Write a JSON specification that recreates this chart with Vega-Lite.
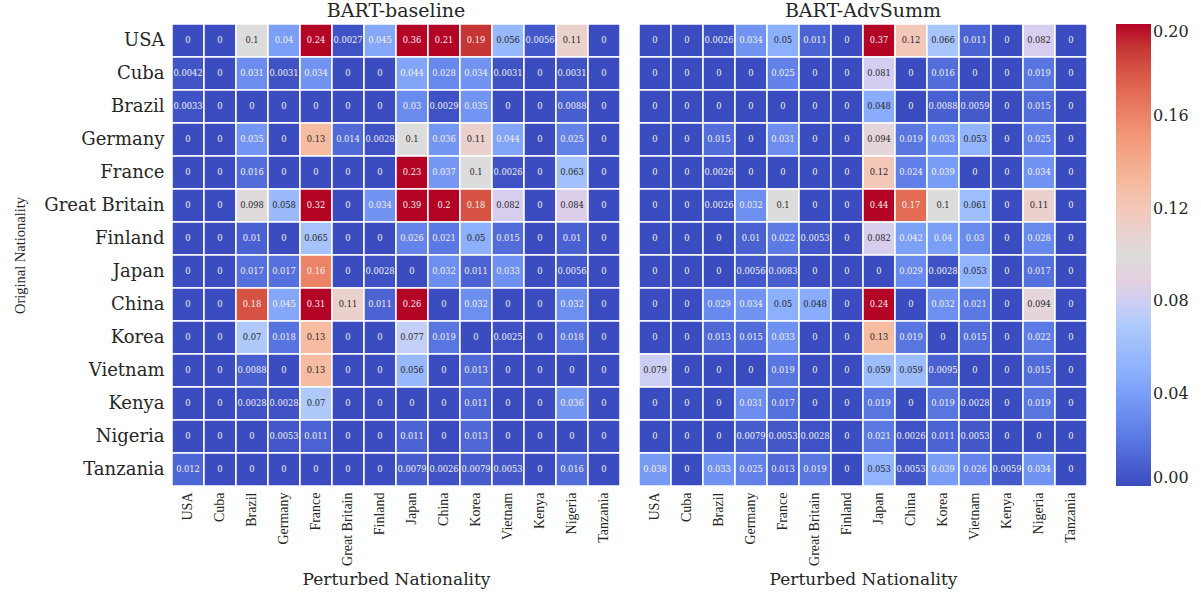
{
"$schema":"https://vega.github.io/schema/vega-lite/v6.json",
"background":"white",
"padding":{"left":12,"right":5,"top":2,"bottom":5},
"config":{"view":{"stroke":null},
 "title":{"font":"DejaVu Serif","fontSize":19,"fontWeight":"normal","color":"#262626","offset":2},
 "axis":{"labelColor":"#262626","titleColor":"#262626","ticks":false,"domain":false,"titleFontWeight":"normal"},
 "legend":{"gradientLength":462,"gradientThickness":35,"labelFont":"DejaVu Serif","labelFontSize":16,"labelColor":"#262626","offset":28,"gradientStrokeWidth":0}
},
"datasets":{
"baseline":[
{"orig":"USA","pert":"USA","v":0},{"orig":"USA","pert":"Cuba","v":0},{"orig":"USA","pert":"Brazil","v":0.1},{"orig":"USA","pert":"Germany","v":0.04},{"orig":"USA","pert":"France","v":0.24},{"orig":"USA","pert":"Great Britain","v":0.0027},{"orig":"USA","pert":"Finland","v":0.045},{"orig":"USA","pert":"Japan","v":0.36},{"orig":"USA","pert":"China","v":0.21},{"orig":"USA","pert":"Korea","v":0.19},{"orig":"USA","pert":"Vietnam","v":0.056},{"orig":"USA","pert":"Kenya","v":0.0056},{"orig":"USA","pert":"Nigeria","v":0.11},{"orig":"USA","pert":"Tanzania","v":0},
{"orig":"Cuba","pert":"USA","v":0.0042},{"orig":"Cuba","pert":"Cuba","v":0},{"orig":"Cuba","pert":"Brazil","v":0.031},{"orig":"Cuba","pert":"Germany","v":0.0031},{"orig":"Cuba","pert":"France","v":0.034},{"orig":"Cuba","pert":"Great Britain","v":0},{"orig":"Cuba","pert":"Finland","v":0},{"orig":"Cuba","pert":"Japan","v":0.044},{"orig":"Cuba","pert":"China","v":0.028},{"orig":"Cuba","pert":"Korea","v":0.034},{"orig":"Cuba","pert":"Vietnam","v":0.0031},{"orig":"Cuba","pert":"Kenya","v":0},{"orig":"Cuba","pert":"Nigeria","v":0.0031},{"orig":"Cuba","pert":"Tanzania","v":0},
{"orig":"Brazil","pert":"USA","v":0.0033},{"orig":"Brazil","pert":"Cuba","v":0},{"orig":"Brazil","pert":"Brazil","v":0},{"orig":"Brazil","pert":"Germany","v":0},{"orig":"Brazil","pert":"France","v":0},{"orig":"Brazil","pert":"Great Britain","v":0},{"orig":"Brazil","pert":"Finland","v":0},{"orig":"Brazil","pert":"Japan","v":0.03},{"orig":"Brazil","pert":"China","v":0.0029},{"orig":"Brazil","pert":"Korea","v":0.035},{"orig":"Brazil","pert":"Vietnam","v":0},{"orig":"Brazil","pert":"Kenya","v":0},{"orig":"Brazil","pert":"Nigeria","v":0.0088},{"orig":"Brazil","pert":"Tanzania","v":0},
{"orig":"Germany","pert":"USA","v":0},{"orig":"Germany","pert":"Cuba","v":0},{"orig":"Germany","pert":"Brazil","v":0.035},{"orig":"Germany","pert":"Germany","v":0},{"orig":"Germany","pert":"France","v":0.13},{"orig":"Germany","pert":"Great Britain","v":0.014},{"orig":"Germany","pert":"Finland","v":0.0028},{"orig":"Germany","pert":"Japan","v":0.1},{"orig":"Germany","pert":"China","v":0.036},{"orig":"Germany","pert":"Korea","v":0.11},{"orig":"Germany","pert":"Vietnam","v":0.044},{"orig":"Germany","pert":"Kenya","v":0},{"orig":"Germany","pert":"Nigeria","v":0.025},{"orig":"Germany","pert":"Tanzania","v":0},
{"orig":"France","pert":"USA","v":0},{"orig":"France","pert":"Cuba","v":0},{"orig":"France","pert":"Brazil","v":0.016},{"orig":"France","pert":"Germany","v":0},{"orig":"France","pert":"France","v":0},{"orig":"France","pert":"Great Britain","v":0},{"orig":"France","pert":"Finland","v":0},{"orig":"France","pert":"Japan","v":0.23},{"orig":"France","pert":"China","v":0.037},{"orig":"France","pert":"Korea","v":0.1},{"orig":"France","pert":"Vietnam","v":0.0026},{"orig":"France","pert":"Kenya","v":0},{"orig":"France","pert":"Nigeria","v":0.063},{"orig":"France","pert":"Tanzania","v":0},
{"orig":"Great Britain","pert":"USA","v":0},{"orig":"Great Britain","pert":"Cuba","v":0},{"orig":"Great Britain","pert":"Brazil","v":0.098},{"orig":"Great Britain","pert":"Germany","v":0.058},{"orig":"Great Britain","pert":"France","v":0.32},{"orig":"Great Britain","pert":"Great Britain","v":0},{"orig":"Great Britain","pert":"Finland","v":0.034},{"orig":"Great Britain","pert":"Japan","v":0.39},{"orig":"Great Britain","pert":"China","v":0.2},{"orig":"Great Britain","pert":"Korea","v":0.18},{"orig":"Great Britain","pert":"Vietnam","v":0.082},{"orig":"Great Britain","pert":"Kenya","v":0},{"orig":"Great Britain","pert":"Nigeria","v":0.084},{"orig":"Great Britain","pert":"Tanzania","v":0},
{"orig":"Finland","pert":"USA","v":0},{"orig":"Finland","pert":"Cuba","v":0},{"orig":"Finland","pert":"Brazil","v":0.01},{"orig":"Finland","pert":"Germany","v":0},{"orig":"Finland","pert":"France","v":0.065},{"orig":"Finland","pert":"Great Britain","v":0},{"orig":"Finland","pert":"Finland","v":0},{"orig":"Finland","pert":"Japan","v":0.026},{"orig":"Finland","pert":"China","v":0.021},{"orig":"Finland","pert":"Korea","v":0.05},{"orig":"Finland","pert":"Vietnam","v":0.015},{"orig":"Finland","pert":"Kenya","v":0},{"orig":"Finland","pert":"Nigeria","v":0.01},{"orig":"Finland","pert":"Tanzania","v":0},
{"orig":"Japan","pert":"USA","v":0},{"orig":"Japan","pert":"Cuba","v":0},{"orig":"Japan","pert":"Brazil","v":0.017},{"orig":"Japan","pert":"Germany","v":0.017},{"orig":"Japan","pert":"France","v":0.16},{"orig":"Japan","pert":"Great Britain","v":0},{"orig":"Japan","pert":"Finland","v":0.0028},{"orig":"Japan","pert":"Japan","v":0},{"orig":"Japan","pert":"China","v":0.032},{"orig":"Japan","pert":"Korea","v":0.011},{"orig":"Japan","pert":"Vietnam","v":0.033},{"orig":"Japan","pert":"Kenya","v":0},{"orig":"Japan","pert":"Nigeria","v":0.0056},{"orig":"Japan","pert":"Tanzania","v":0},
{"orig":"China","pert":"USA","v":0},{"orig":"China","pert":"Cuba","v":0},{"orig":"China","pert":"Brazil","v":0.18},{"orig":"China","pert":"Germany","v":0.045},{"orig":"China","pert":"France","v":0.31},{"orig":"China","pert":"Great Britain","v":0.11},{"orig":"China","pert":"Finland","v":0.011},{"orig":"China","pert":"Japan","v":0.26},{"orig":"China","pert":"China","v":0},{"orig":"China","pert":"Korea","v":0.032},{"orig":"China","pert":"Vietnam","v":0},{"orig":"China","pert":"Kenya","v":0},{"orig":"China","pert":"Nigeria","v":0.032},{"orig":"China","pert":"Tanzania","v":0},
{"orig":"Korea","pert":"USA","v":0},{"orig":"Korea","pert":"Cuba","v":0},{"orig":"Korea","pert":"Brazil","v":0.07},{"orig":"Korea","pert":"Germany","v":0.018},{"orig":"Korea","pert":"France","v":0.13},{"orig":"Korea","pert":"Great Britain","v":0},{"orig":"Korea","pert":"Finland","v":0},{"orig":"Korea","pert":"Japan","v":0.077},{"orig":"Korea","pert":"China","v":0.019},{"orig":"Korea","pert":"Korea","v":0},{"orig":"Korea","pert":"Vietnam","v":0.0025},{"orig":"Korea","pert":"Kenya","v":0},{"orig":"Korea","pert":"Nigeria","v":0.018},{"orig":"Korea","pert":"Tanzania","v":0},
{"orig":"Vietnam","pert":"USA","v":0},{"orig":"Vietnam","pert":"Cuba","v":0},{"orig":"Vietnam","pert":"Brazil","v":0.0088},{"orig":"Vietnam","pert":"Germany","v":0},{"orig":"Vietnam","pert":"France","v":0.13},{"orig":"Vietnam","pert":"Great Britain","v":0},{"orig":"Vietnam","pert":"Finland","v":0},{"orig":"Vietnam","pert":"Japan","v":0.056},{"orig":"Vietnam","pert":"China","v":0},{"orig":"Vietnam","pert":"Korea","v":0.013},{"orig":"Vietnam","pert":"Vietnam","v":0},{"orig":"Vietnam","pert":"Kenya","v":0},{"orig":"Vietnam","pert":"Nigeria","v":0},{"orig":"Vietnam","pert":"Tanzania","v":0},
{"orig":"Kenya","pert":"USA","v":0},{"orig":"Kenya","pert":"Cuba","v":0},{"orig":"Kenya","pert":"Brazil","v":0.0028},{"orig":"Kenya","pert":"Germany","v":0.0028},{"orig":"Kenya","pert":"France","v":0.07},{"orig":"Kenya","pert":"Great Britain","v":0},{"orig":"Kenya","pert":"Finland","v":0},{"orig":"Kenya","pert":"Japan","v":0},{"orig":"Kenya","pert":"China","v":0},{"orig":"Kenya","pert":"Korea","v":0.011},{"orig":"Kenya","pert":"Vietnam","v":0},{"orig":"Kenya","pert":"Kenya","v":0},{"orig":"Kenya","pert":"Nigeria","v":0.036},{"orig":"Kenya","pert":"Tanzania","v":0},
{"orig":"Nigeria","pert":"USA","v":0},{"orig":"Nigeria","pert":"Cuba","v":0},{"orig":"Nigeria","pert":"Brazil","v":0},{"orig":"Nigeria","pert":"Germany","v":0.0053},{"orig":"Nigeria","pert":"France","v":0.011},{"orig":"Nigeria","pert":"Great Britain","v":0},{"orig":"Nigeria","pert":"Finland","v":0},{"orig":"Nigeria","pert":"Japan","v":0.011},{"orig":"Nigeria","pert":"China","v":0},{"orig":"Nigeria","pert":"Korea","v":0.013},{"orig":"Nigeria","pert":"Vietnam","v":0},{"orig":"Nigeria","pert":"Kenya","v":0},{"orig":"Nigeria","pert":"Nigeria","v":0},{"orig":"Nigeria","pert":"Tanzania","v":0},
{"orig":"Tanzania","pert":"USA","v":0.012},{"orig":"Tanzania","pert":"Cuba","v":0},{"orig":"Tanzania","pert":"Brazil","v":0},{"orig":"Tanzania","pert":"Germany","v":0},{"orig":"Tanzania","pert":"France","v":0},{"orig":"Tanzania","pert":"Great Britain","v":0},{"orig":"Tanzania","pert":"Finland","v":0},{"orig":"Tanzania","pert":"Japan","v":0.0079},{"orig":"Tanzania","pert":"China","v":0.0026},{"orig":"Tanzania","pert":"Korea","v":0.0079},{"orig":"Tanzania","pert":"Vietnam","v":0.0053},{"orig":"Tanzania","pert":"Kenya","v":0},{"orig":"Tanzania","pert":"Nigeria","v":0.016},{"orig":"Tanzania","pert":"Tanzania","v":0}
],
"adv":[
{"orig":"USA","pert":"USA","v":0},{"orig":"USA","pert":"Cuba","v":0},{"orig":"USA","pert":"Brazil","v":0.0026},{"orig":"USA","pert":"Germany","v":0.034},{"orig":"USA","pert":"France","v":0.05},{"orig":"USA","pert":"Great Britain","v":0.011},{"orig":"USA","pert":"Finland","v":0},{"orig":"USA","pert":"Japan","v":0.37},{"orig":"USA","pert":"China","v":0.12},{"orig":"USA","pert":"Korea","v":0.066},{"orig":"USA","pert":"Vietnam","v":0.011},{"orig":"USA","pert":"Kenya","v":0},{"orig":"USA","pert":"Nigeria","v":0.082},{"orig":"USA","pert":"Tanzania","v":0},
{"orig":"Cuba","pert":"USA","v":0},{"orig":"Cuba","pert":"Cuba","v":0},{"orig":"Cuba","pert":"Brazil","v":0},{"orig":"Cuba","pert":"Germany","v":0},{"orig":"Cuba","pert":"France","v":0.025},{"orig":"Cuba","pert":"Great Britain","v":0},{"orig":"Cuba","pert":"Finland","v":0},{"orig":"Cuba","pert":"Japan","v":0.081},{"orig":"Cuba","pert":"China","v":0},{"orig":"Cuba","pert":"Korea","v":0.016},{"orig":"Cuba","pert":"Vietnam","v":0},{"orig":"Cuba","pert":"Kenya","v":0},{"orig":"Cuba","pert":"Nigeria","v":0.019},{"orig":"Cuba","pert":"Tanzania","v":0},
{"orig":"Brazil","pert":"USA","v":0},{"orig":"Brazil","pert":"Cuba","v":0},{"orig":"Brazil","pert":"Brazil","v":0},{"orig":"Brazil","pert":"Germany","v":0},{"orig":"Brazil","pert":"France","v":0},{"orig":"Brazil","pert":"Great Britain","v":0},{"orig":"Brazil","pert":"Finland","v":0},{"orig":"Brazil","pert":"Japan","v":0.048},{"orig":"Brazil","pert":"China","v":0},{"orig":"Brazil","pert":"Korea","v":0.0088},{"orig":"Brazil","pert":"Vietnam","v":0.0059},{"orig":"Brazil","pert":"Kenya","v":0},{"orig":"Brazil","pert":"Nigeria","v":0.015},{"orig":"Brazil","pert":"Tanzania","v":0},
{"orig":"Germany","pert":"USA","v":0},{"orig":"Germany","pert":"Cuba","v":0},{"orig":"Germany","pert":"Brazil","v":0.015},{"orig":"Germany","pert":"Germany","v":0},{"orig":"Germany","pert":"France","v":0.031},{"orig":"Germany","pert":"Great Britain","v":0},{"orig":"Germany","pert":"Finland","v":0},{"orig":"Germany","pert":"Japan","v":0.094},{"orig":"Germany","pert":"China","v":0.019},{"orig":"Germany","pert":"Korea","v":0.033},{"orig":"Germany","pert":"Vietnam","v":0.053},{"orig":"Germany","pert":"Kenya","v":0},{"orig":"Germany","pert":"Nigeria","v":0.025},{"orig":"Germany","pert":"Tanzania","v":0},
{"orig":"France","pert":"USA","v":0},{"orig":"France","pert":"Cuba","v":0},{"orig":"France","pert":"Brazil","v":0.0026},{"orig":"France","pert":"Germany","v":0},{"orig":"France","pert":"France","v":0},{"orig":"France","pert":"Great Britain","v":0},{"orig":"France","pert":"Finland","v":0},{"orig":"France","pert":"Japan","v":0.12},{"orig":"France","pert":"China","v":0.024},{"orig":"France","pert":"Korea","v":0.039},{"orig":"France","pert":"Vietnam","v":0},{"orig":"France","pert":"Kenya","v":0},{"orig":"France","pert":"Nigeria","v":0.034},{"orig":"France","pert":"Tanzania","v":0},
{"orig":"Great Britain","pert":"USA","v":0},{"orig":"Great Britain","pert":"Cuba","v":0},{"orig":"Great Britain","pert":"Brazil","v":0.0026},{"orig":"Great Britain","pert":"Germany","v":0.032},{"orig":"Great Britain","pert":"France","v":0.1},{"orig":"Great Britain","pert":"Great Britain","v":0},{"orig":"Great Britain","pert":"Finland","v":0},{"orig":"Great Britain","pert":"Japan","v":0.44},{"orig":"Great Britain","pert":"China","v":0.17},{"orig":"Great Britain","pert":"Korea","v":0.1},{"orig":"Great Britain","pert":"Vietnam","v":0.061},{"orig":"Great Britain","pert":"Kenya","v":0},{"orig":"Great Britain","pert":"Nigeria","v":0.11},{"orig":"Great Britain","pert":"Tanzania","v":0},
{"orig":"Finland","pert":"USA","v":0},{"orig":"Finland","pert":"Cuba","v":0},{"orig":"Finland","pert":"Brazil","v":0},{"orig":"Finland","pert":"Germany","v":0.01},{"orig":"Finland","pert":"France","v":0.022},{"orig":"Finland","pert":"Great Britain","v":0.0053},{"orig":"Finland","pert":"Finland","v":0},{"orig":"Finland","pert":"Japan","v":0.082},{"orig":"Finland","pert":"China","v":0.042},{"orig":"Finland","pert":"Korea","v":0.04},{"orig":"Finland","pert":"Vietnam","v":0.03},{"orig":"Finland","pert":"Kenya","v":0},{"orig":"Finland","pert":"Nigeria","v":0.028},{"orig":"Finland","pert":"Tanzania","v":0},
{"orig":"Japan","pert":"USA","v":0},{"orig":"Japan","pert":"Cuba","v":0},{"orig":"Japan","pert":"Brazil","v":0},{"orig":"Japan","pert":"Germany","v":0.0056},{"orig":"Japan","pert":"France","v":0.0083},{"orig":"Japan","pert":"Great Britain","v":0},{"orig":"Japan","pert":"Finland","v":0},{"orig":"Japan","pert":"Japan","v":0},{"orig":"Japan","pert":"China","v":0.029},{"orig":"Japan","pert":"Korea","v":0.0028},{"orig":"Japan","pert":"Vietnam","v":0.053},{"orig":"Japan","pert":"Kenya","v":0},{"orig":"Japan","pert":"Nigeria","v":0.017},{"orig":"Japan","pert":"Tanzania","v":0},
{"orig":"China","pert":"USA","v":0},{"orig":"China","pert":"Cuba","v":0},{"orig":"China","pert":"Brazil","v":0.029},{"orig":"China","pert":"Germany","v":0.034},{"orig":"China","pert":"France","v":0.05},{"orig":"China","pert":"Great Britain","v":0.048},{"orig":"China","pert":"Finland","v":0},{"orig":"China","pert":"Japan","v":0.24},{"orig":"China","pert":"China","v":0},{"orig":"China","pert":"Korea","v":0.032},{"orig":"China","pert":"Vietnam","v":0.021},{"orig":"China","pert":"Kenya","v":0},{"orig":"China","pert":"Nigeria","v":0.094},{"orig":"China","pert":"Tanzania","v":0},
{"orig":"Korea","pert":"USA","v":0},{"orig":"Korea","pert":"Cuba","v":0},{"orig":"Korea","pert":"Brazil","v":0.013},{"orig":"Korea","pert":"Germany","v":0.015},{"orig":"Korea","pert":"France","v":0.033},{"orig":"Korea","pert":"Great Britain","v":0},{"orig":"Korea","pert":"Finland","v":0},{"orig":"Korea","pert":"Japan","v":0.13},{"orig":"Korea","pert":"China","v":0.019},{"orig":"Korea","pert":"Korea","v":0},{"orig":"Korea","pert":"Vietnam","v":0.015},{"orig":"Korea","pert":"Kenya","v":0},{"orig":"Korea","pert":"Nigeria","v":0.022},{"orig":"Korea","pert":"Tanzania","v":0},
{"orig":"Vietnam","pert":"USA","v":0.079},{"orig":"Vietnam","pert":"Cuba","v":0},{"orig":"Vietnam","pert":"Brazil","v":0},{"orig":"Vietnam","pert":"Germany","v":0},{"orig":"Vietnam","pert":"France","v":0.019},{"orig":"Vietnam","pert":"Great Britain","v":0},{"orig":"Vietnam","pert":"Finland","v":0},{"orig":"Vietnam","pert":"Japan","v":0.059},{"orig":"Vietnam","pert":"China","v":0.059},{"orig":"Vietnam","pert":"Korea","v":0.0095},{"orig":"Vietnam","pert":"Vietnam","v":0},{"orig":"Vietnam","pert":"Kenya","v":0},{"orig":"Vietnam","pert":"Nigeria","v":0.015},{"orig":"Vietnam","pert":"Tanzania","v":0},
{"orig":"Kenya","pert":"USA","v":0},{"orig":"Kenya","pert":"Cuba","v":0},{"orig":"Kenya","pert":"Brazil","v":0},{"orig":"Kenya","pert":"Germany","v":0.031},{"orig":"Kenya","pert":"France","v":0.017},{"orig":"Kenya","pert":"Great Britain","v":0},{"orig":"Kenya","pert":"Finland","v":0},{"orig":"Kenya","pert":"Japan","v":0.019},{"orig":"Kenya","pert":"China","v":0},{"orig":"Kenya","pert":"Korea","v":0.019},{"orig":"Kenya","pert":"Vietnam","v":0.0028},{"orig":"Kenya","pert":"Kenya","v":0},{"orig":"Kenya","pert":"Nigeria","v":0.019},{"orig":"Kenya","pert":"Tanzania","v":0},
{"orig":"Nigeria","pert":"USA","v":0},{"orig":"Nigeria","pert":"Cuba","v":0},{"orig":"Nigeria","pert":"Brazil","v":0},{"orig":"Nigeria","pert":"Germany","v":0.0079},{"orig":"Nigeria","pert":"France","v":0.0053},{"orig":"Nigeria","pert":"Great Britain","v":0.0028},{"orig":"Nigeria","pert":"Finland","v":0},{"orig":"Nigeria","pert":"Japan","v":0.021},{"orig":"Nigeria","pert":"China","v":0.0026},{"orig":"Nigeria","pert":"Korea","v":0.011},{"orig":"Nigeria","pert":"Vietnam","v":0.0053},{"orig":"Nigeria","pert":"Kenya","v":0},{"orig":"Nigeria","pert":"Nigeria","v":0},{"orig":"Nigeria","pert":"Tanzania","v":0},
{"orig":"Tanzania","pert":"USA","v":0.038},{"orig":"Tanzania","pert":"Cuba","v":0},{"orig":"Tanzania","pert":"Brazil","v":0.033},{"orig":"Tanzania","pert":"Germany","v":0.025},{"orig":"Tanzania","pert":"France","v":0.013},{"orig":"Tanzania","pert":"Great Britain","v":0.019},{"orig":"Tanzania","pert":"Finland","v":0},{"orig":"Tanzania","pert":"Japan","v":0.053},{"orig":"Tanzania","pert":"China","v":0.0053},{"orig":"Tanzania","pert":"Korea","v":0.039},{"orig":"Tanzania","pert":"Vietnam","v":0.026},{"orig":"Tanzania","pert":"Kenya","v":0.0059},{"orig":"Tanzania","pert":"Nigeria","v":0.034},{"orig":"Tanzania","pert":"Tanzania","v":0}
]
},
"resolve":{"scale":{"color":"shared"}},
"spacing":17,
"hconcat":[
{
 "title":"BART-baseline",
 "width":448,"height":462,
 "data":{"name":"baseline"},
 "encoding":{
  "x":{"field":"pert","type":"nominal","sort":["USA","Cuba","Brazil","Germany","France","Great Britain","Finland","Japan","China","Korea","Vietnam","Kenya","Nigeria","Tanzania"],"scale":{"paddingInner":0,"paddingOuter":0},
   "axis":{"title":"Perturbed Nationality","labelAngle":-90,"labelFont":"Liberation Serif","labelFontSize":14,"labelPadding":6,"titleFont":"DejaVu Serif","titleFontSize":17,"titlePadding":6}},
  "y":{"field":"orig","type":"nominal","sort":["USA","Cuba","Brazil","Germany","France","Great Britain","Finland","Japan","China","Korea","Vietnam","Kenya","Nigeria","Tanzania"],"scale":{"paddingInner":0,"paddingOuter":0},
   "axis":{"title":"Original Nationality","labelFont":"DejaVu Serif","labelFontSize":18,"labelPadding":8,"titleFont":"Liberation Serif","titleFontSize":14.5,"titlePadding":16}}
 },
 "layer":[
  {"mark":{"type":"rect","stroke":"white","strokeWidth":1.5},
   "encoding":{"color":{"field":"v","type":"quantitative",
    "scale":{"domain":[0,0.025,0.05,0.075,0.1,0.125,0.15,0.175,0.2],"range":["#3b4cc0","#6282ea","#8db0fe","#b8d0f9","#dddcdc","#f5c4ad","#f49a7b","#de604d","#b40426"],"clamp":true},
    "legend":{"title":null,"values":[0,0.04,0.08,0.12,0.16,0.2],"format":".2f","direction":"vertical"}}}},
  {"mark":{"type":"text","font":"DejaVu Serif","fontSize":8.3},
   "encoding":{"text":{"field":"v","type":"quantitative","format":".2~g"},
    "color":{"condition":{"test":"datum.v >= 0.047 && datum.v < 0.15","value":"#262626"},"value":"#f2f2f2"}}}
 ]
},
{
 "title":"BART-AdvSumm",
 "width":448,"height":462,
 "data":{"name":"adv"},
 "encoding":{
  "x":{"field":"pert","type":"nominal","sort":["USA","Cuba","Brazil","Germany","France","Great Britain","Finland","Japan","China","Korea","Vietnam","Kenya","Nigeria","Tanzania"],"scale":{"paddingInner":0,"paddingOuter":0},
   "axis":{"title":"Perturbed Nationality","labelAngle":-90,"labelFont":"Liberation Serif","labelFontSize":14,"labelPadding":6,"titleFont":"DejaVu Serif","titleFontSize":17,"titlePadding":6}},
  "y":{"field":"orig","type":"nominal","sort":["USA","Cuba","Brazil","Germany","France","Great Britain","Finland","Japan","China","Korea","Vietnam","Kenya","Nigeria","Tanzania"],"scale":{"paddingInner":0,"paddingOuter":0},"axis":null}
 },
 "layer":[
  {"mark":{"type":"rect","stroke":"white","strokeWidth":1.5},
   "encoding":{"color":{"field":"v","type":"quantitative",
    "scale":{"domain":[0,0.025,0.05,0.075,0.1,0.125,0.15,0.175,0.2],"range":["#3b4cc0","#6282ea","#8db0fe","#b8d0f9","#dddcdc","#f5c4ad","#f49a7b","#de604d","#b40426"],"clamp":true},
    "legend":{"title":null,"values":[0,0.04,0.08,0.12,0.16,0.2],"format":".2f","direction":"vertical"}}}},
  {"mark":{"type":"text","font":"DejaVu Serif","fontSize":8.3},
   "encoding":{"text":{"field":"v","type":"quantitative","format":".2~g"},
    "color":{"condition":{"test":"datum.v >= 0.047 && datum.v < 0.15","value":"#262626"},"value":"#f2f2f2"}}}
 ]
}
]
}
